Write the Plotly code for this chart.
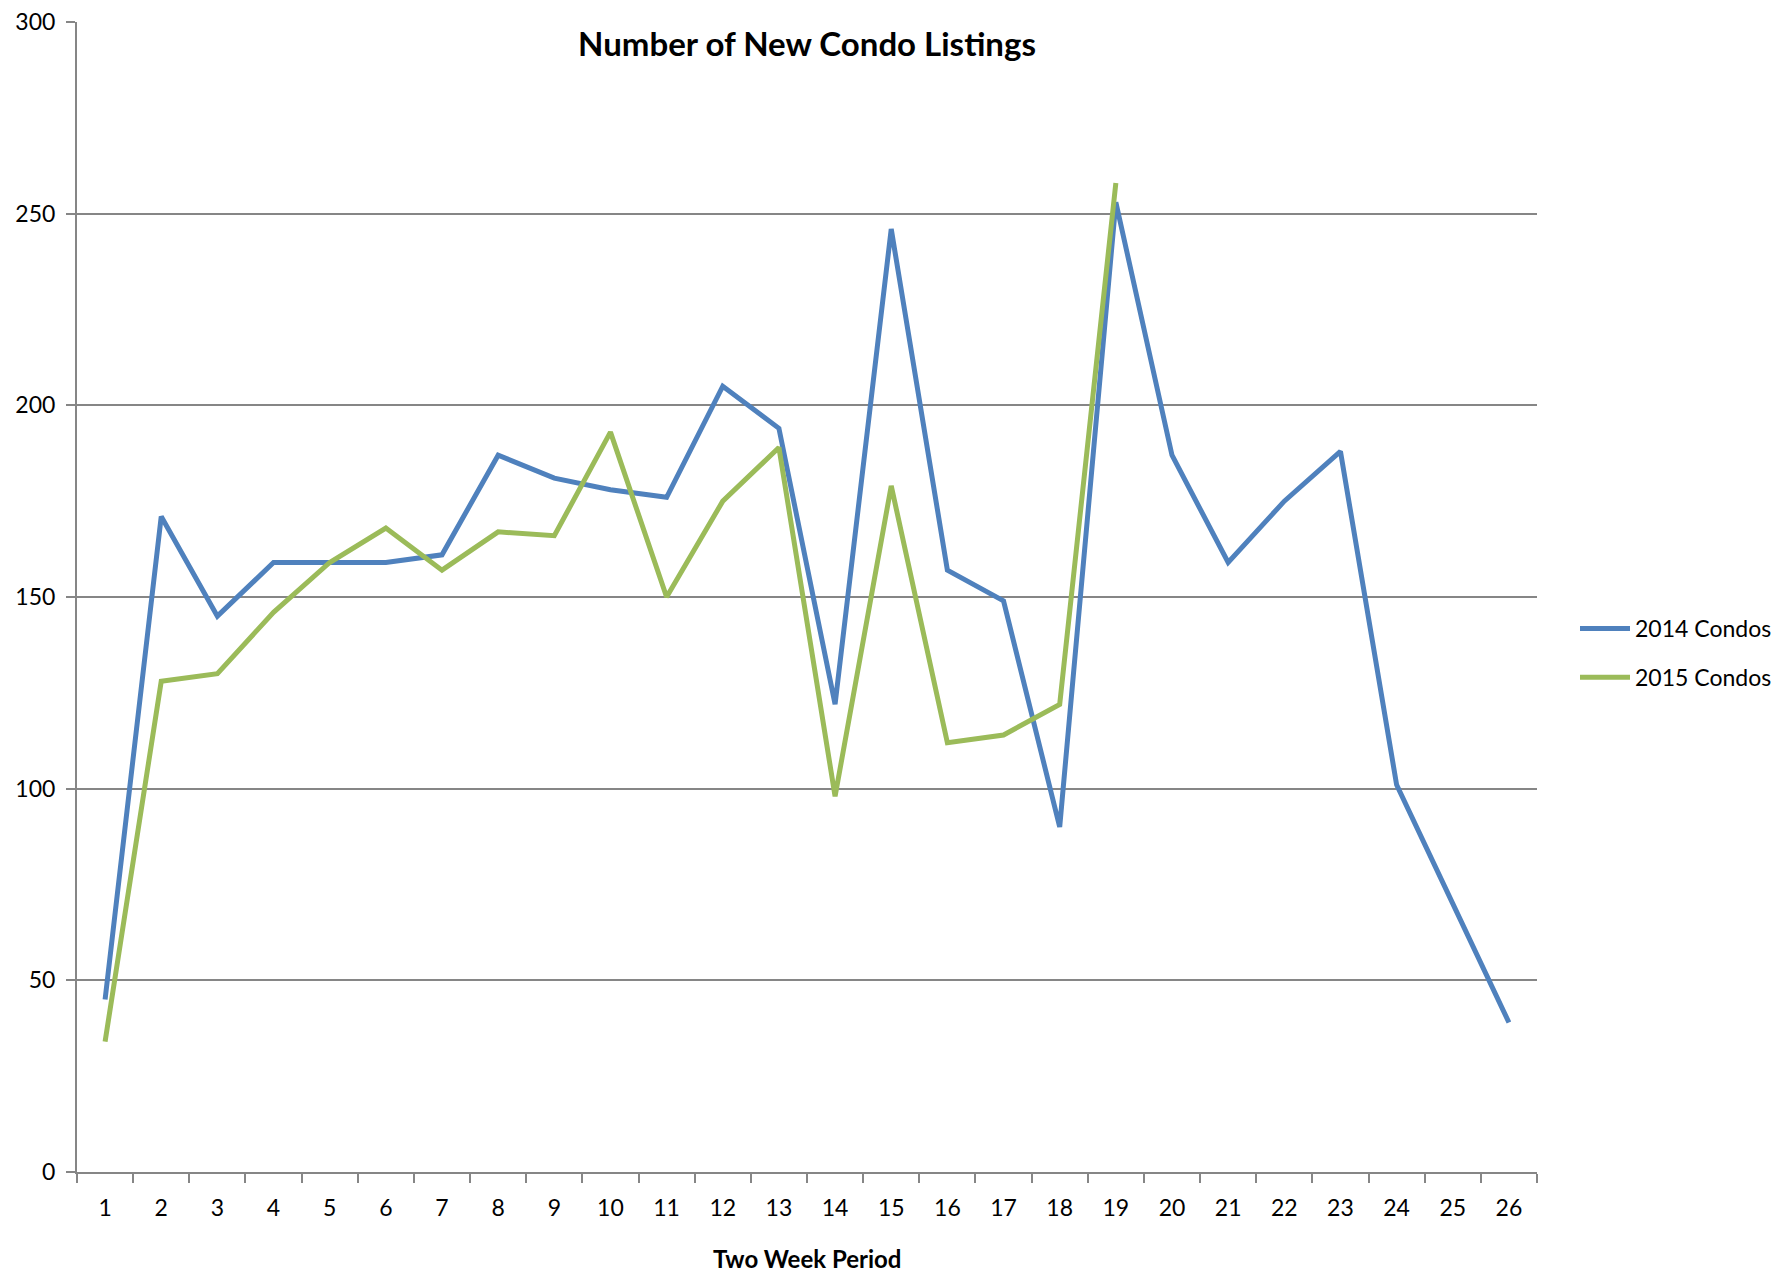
import plotly.graph_objects as go

periods = [str(i) for i in range(1, 27)]
condos_2014 = [45, 171, 145, 159, 159, 159, 161, 187, 181, 178, 176, 205, 194, 122, 246,
               157, 149, 90, 253, 187, 159, 175, 188, 101, 70, 39]
condos_2015 = [34, 128, 130, 146, 159, 168, 157, 167, 166, 193, 150, 175, 189, 98, 179,
               112, 114, 122, 258]
y_ticks = [0, 50, 100, 150, 200, 250, 300]

# page has an 8px body margin, so figure coords = page coords - 8
OFF = 8
W, H = 1781 - 2 * OFF, 1283 - 2 * OFF
L, R, T, B = 77 - OFF, 1537 - OFF, 22 - OFF, 1172 - OFF
font = "Lato, 'Open Sans', sans-serif"

fig = go.Figure()
fig.add_trace(go.Scatter(x=periods, y=condos_2014, mode="lines", name="2014 Condos",
                         legendgroup="a",
                         line=dict(color="#4F81BD", width=5)))
fig.add_trace(go.Scatter(x=periods[:len(condos_2015)], y=condos_2015, mode="lines",
                         name="2015 Condos", legendgroup="b",
                         line=dict(color="#9BBB59", width=5)))

ph = B - T
legend_mid = 653 - OFF
fig.update_layout(
    width=W, height=H,
    margin=dict(l=L, r=W - R, t=T, b=H - B, autoexpand=False),
    plot_bgcolor="white", paper_bgcolor="white",
    font=dict(family=font, size=23, color="black"),
    title=dict(text="<b>Number of New Condo Listings</b>", x=(L + R) / 2 / W, xanchor="center",
               y=1 - (44 - OFF) / H, yanchor="middle", yref="container",
               font=dict(family=font, size=33, color="black")),
    showlegend=True,
    legend=dict(x=(1575 - OFF - L) / (R - L), xanchor="left",
                y=(B - legend_mid) / ph, yanchor="middle",
                font=dict(size=23), bgcolor="rgba(0,0,0,0)", tracegroupgap=16,
                itemwidth=50),
    annotations=[dict(text="<b>Two Week Period</b>", xref="paper", yref="paper",
                      x=0.5, y=-(1258 - OFF - B) / ph, xanchor="center", yanchor="middle",
                      showarrow=False, font=dict(size=24, color="black"))],
)
fig.update_xaxes(type="category", categoryorder="array", categoryarray=periods,
                 range=[-0.5, len(periods) - 0.5],
                 tickson="boundaries", ticks="outside", ticklen=9, tickwidth=2,
                 tickcolor="#868686", showline=True, linecolor="#868686", linewidth=2,
                 showgrid=False, zeroline=False,
                 tickfont=dict(size=23), ticklabelstandoff=14)
fig.update_yaxes(range=[0, 300], tickvals=y_ticks, ticks="outside", ticklen=9, tickwidth=2,
                 tickcolor="#868686", showline=True, linecolor="#868686", linewidth=2,
                 showgrid=True, gridcolor="#868686", gridwidth=2, zeroline=False,
                 ticklabeloverflow="allow",
                 tickfont=dict(size=23), ticklabelstandoff=6)

fig.write_html("out.html")
